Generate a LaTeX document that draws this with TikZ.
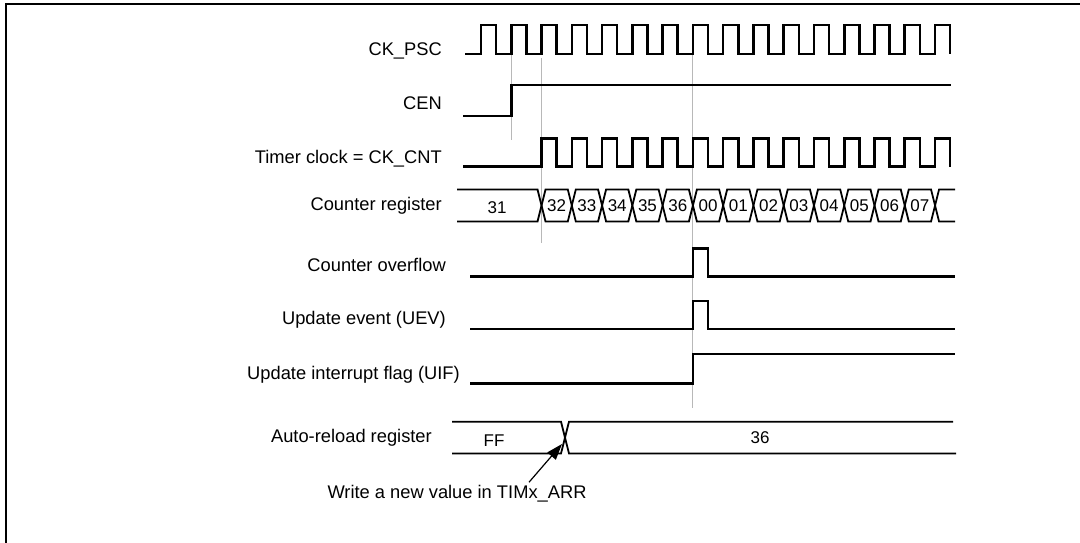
\documentclass[tikz,border=0pt]{standalone}
\usepackage{fontspec}
\setmainfont{Liberation Sans}
\usetikzlibrary{arrows.meta,calc}
\begin{document}
\begin{tikzpicture}[x=1pt,y=-1pt,
  sig/.style={line width=2.6pt, line join=miter},
  bus/.style={line width=1.8pt, line join=miter},
  guide/.style={draw=black!28, line width=1pt},
  lbl/.style={anchor=base east, inner sep=0pt, font=\fontsize{18.3}{21}\selectfont},
  val/.style={anchor=base, inner sep=0pt, font=\fontsize{17}{20}\selectfont},
  frm/.style={line width=2pt}]
\useasboundingbox (0,0) rectangle (1080,543);
\def\tzero{481}
\def\tper{30.27}
\def\hw{15.1}
% frame
\draw[frm] (1080,4) -- (6,4) -- (6,543);
% guide lines
\draw[guide] ({\tzero+\tper*1},54) -- ({\tzero+\tper*1},140);
\draw[guide] ({\tzero+\tper*2},58) -- ({\tzero+\tper*2},243);
\draw[guide] ({\tzero+\tper*7},54) -- ({\tzero+\tper*7},408);
% labels
\node[lbl] (lpsc) at (442,56) {CK\_PSC};
\node[lbl] (lcen) at (442,109.3) {CEN};
\node[lbl] (lcnt) at (442,163.3) {Timer clock = CK\_CNT};
\node[lbl] (lreg) at (442,210.7) {Counter register};
\node[lbl] (lovf) at (446,271) {Counter overflow};
\node[lbl] (luev) at (446,324) {Update event (UEV)};
\node[lbl] (luif) at (460,379) {Update interrupt flag (UIF)};
\node[lbl] (larr) at (432,442) {Auto-reload register};
% CK_PSC
\draw[sig] (465,54) \foreach \k in {0,...,15}{ -- ({\tzero+\tper*\k},54) -- ({\tzero+\tper*\k},25) -- ({\tzero+\hw+\tper*\k},25) -- ({\tzero+\hw+\tper*\k},54) };
% CEN
\draw[sig] (463,116) -- ({\tzero+\tper*1},116) -- ({\tzero+\tper*1},85) -- (950.5,85);
% CK_CNT
\draw[sig] (463,166.5) \foreach \k in {2,...,15}{ -- ({\tzero+\tper*\k},166.5) -- ({\tzero+\tper*\k},138.3) -- ({\tzero+\hw+\tper*\k},138.3) -- ({\tzero+\hw+\tper*\k},166.5) };
% Counter register
\def\ct{189.5}\def\cb{221.5}\def\cm{205.5}\def\dd{4}
\draw[bus] (457,\ct) -- ({\tzero+\tper*2-\dd},\ct) -- ({\tzero+\tper*2},\cm) -- ({\tzero+\tper*2-\dd},\cb) -- (457,\cb);
\foreach \k in {2,...,14}{
  \draw[bus] ({\tzero+\tper*\k},\cm) -- ({\tzero+\tper*\k+\dd},\ct) -- ({\tzero+\tper*(\k+1)-\dd},\ct) -- ({\tzero+\tper*(\k+1)},\cm) -- ({\tzero+\tper*(\k+1)-\dd},\cb) -- ({\tzero+\tper*\k+\dd},\cb) -- cycle;
}
\draw[bus] (955,\ct) -- ({\tzero+\tper*15+\dd},\ct) -- ({\tzero+\tper*15},\cm) -- ({\tzero+\tper*15+\dd},\cb) -- (955,\cb);
\node[val] (v31) at (497,213.5) {31};
\foreach \v [count=\i from 2] in {32,33,34,35,36,00,01,02,03,04,05,06,07}{
  \node[val] (c\i) at ({\tzero+\tper*(\i+0.5)},211) {\v};
}
% Counter overflow
\draw[sig] (470,276.7) -- ({\tzero+\tper*7},276.7) -- ({\tzero+\tper*7},248.5) -- ({\tzero+\hw+\tper*7},248.5) -- ({\tzero+\hw+\tper*7},276.7) -- (955,276.7);
% UEV
\draw[sig] (470,329) -- ({\tzero+\tper*7},329) -- ({\tzero+\tper*7},301) -- ({\tzero+\hw+\tper*7},301) -- ({\tzero+\hw+\tper*7},329) -- (955,329);
% UIF
\draw[sig] (470,383.3) -- ({\tzero+\tper*7},383.3) -- ({\tzero+\tper*7},354) -- (955,354);
% Auto-reload register
\def\at{421.7}\def\ab{453.5}\def\am{437.6}
\draw[bus] (452,\at) -- (561,\at) -- (565,\am) -- (561,\ab) -- (452,\ab);
\draw[bus] (953,\at) -- (569,\at) -- (565,\am) -- (569,\ab) -- (956,\ab);
\node[val] (vff) at (494,446) {FF};
\node[val] (v36) at (760,443) {36};
% note and arrow
\node[lbl] (note) at (586.7,498.5) {Write a new value in TIMx\_ARR};
\coordinate (arrtip) at (562,444);
\draw[line width=1.2pt, -{Triangle[length=16pt,width=11pt]}] ($(note.north east)+(-57.7,-2.8)$) -- (arrtip);
\end{tikzpicture}
\end{document}
